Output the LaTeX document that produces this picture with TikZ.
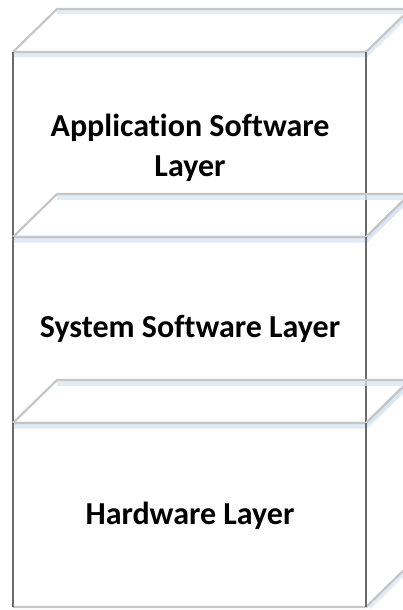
\documentclass[tikz,border=0pt]{standalone}
\usepackage{fontspec}
\setmainfont{Carlito}[Ligatures=NoCommon]
\begin{document}
\begin{tikzpicture}[x=1pt,y=-1pt,
  lightedge/.style={draw=gray!45,line width=2.2pt},
  darkedge/.style={draw=black!58,line width=2.6pt},
  glow/.style={draw={rgb,255:red,214;green,228;blue,244},line width=5pt,opacity=0.7},
  label/.style={font=\fontsize{32}{40}\selectfont\bfseries,align=center,text=black,inner sep=0pt}
]
\useasboundingbox (0,0) rectangle (403,610);
\clip (0,0) rectangle (403,610);
\fill[white] (0,0) rectangle (403,610);
% boxes: top y, bottom y
\foreach \yt/\yb in {52/237,237/423,423/607}{
  % glow under top face edges
  \draw[glow] ([yshift=-3pt]57,\yt-43) -- ([yshift=-3pt]410,\yt-43);
  \draw[glow] ([yshift=-3pt]13,\yt) -- ([yshift=-3pt]366,\yt) -- ([yshift=-3pt]410,\yt-43);
  \draw[glow] ([xshift=3pt]366,\yb) -- ([xshift=3pt]410,\yb-43);
  % top face
  \draw[lightedge] (13,\yt) -- (57,\yt-43) -- (410,\yt-43) -- (410,\yb-43);
  \draw[lightedge] (13,\yt) -- (366,\yt) -- (410,\yt-43);
  % bottom
  \draw[lightedge] (13,\yb) -- (366,\yb) -- (410,\yb-43);
  % front verticals
  \draw[darkedge] (13,\yt) -- (13,\yb);
  \draw[darkedge] (366,\yt) -- (366,\yb);
}
\node[label] (app) at (190,148) {Application Software\\Layer};
\node[label] (sys) at (190,329) {System Software Layer};
\node[label] (hw) at (190,516) {Hardware Layer};
\end{tikzpicture}
\end{document}
